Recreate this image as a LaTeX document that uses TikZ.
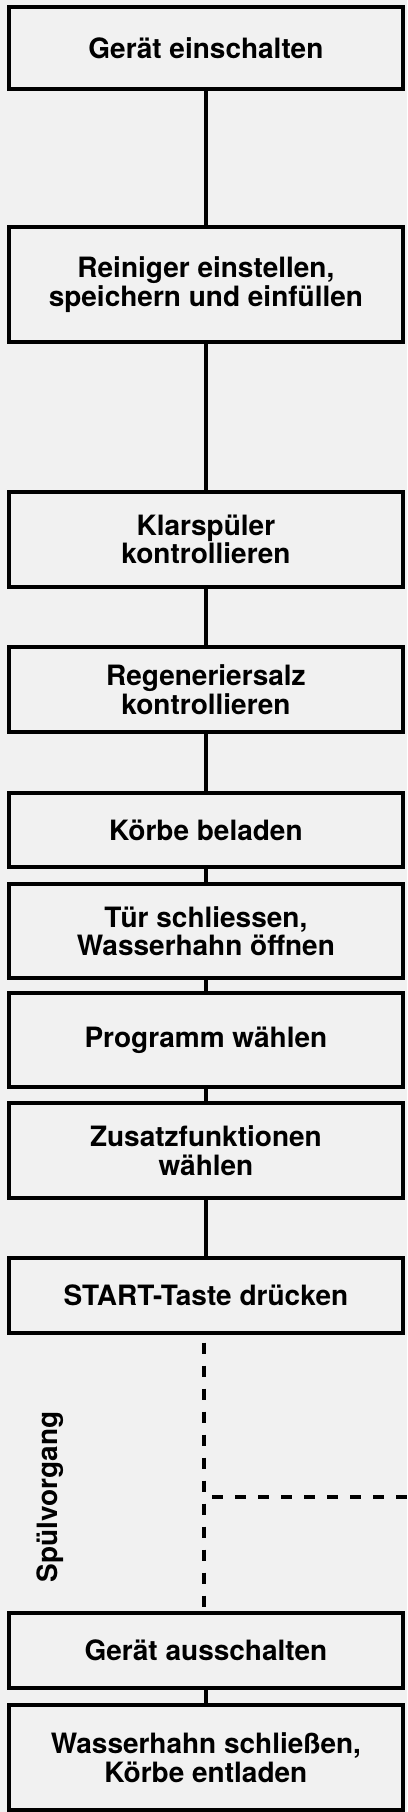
\documentclass[tikz,border=0pt]{standalone}
\usepackage{fontspec}
\setmainfont{TeX Gyre Heros}
\definecolor{bg}{RGB}{241,241,241}
\begin{document}
\begin{tikzpicture}[x=1pt,y=-1pt,
  stepbox/.style={draw=black, line width=3.3pt, fill=bg, minimum width=394pt,
    align=center, inner sep=0pt, font=\fontsize{28}{28.5}\selectfont\bfseries},
  link/.style={draw=black, line width=3.3pt},
  dlink/.style={draw=black, line width=3.6pt, dash pattern=on 11pt off 12pt, dash phase=-8pt}]
\fill[bg] (0,0) rectangle (407,1812);
\useasboundingbox (0,0) rectangle (407,1812);
\node[stepbox, minimum height=82pt]  (b1)  at (205.9,48)    {Gerät einschalten};
\node[stepbox, minimum height=115pt] (b2)  at (205.9,284.5) {Reiniger einstellen,\\speichern und einfüllen};
\node[stepbox, minimum height=95pt]  (b3)  at (205.9,539.5) {Klarspüler\\kontrollieren};
\node[stepbox, minimum height=85pt]  (b4)  at (205.9,689.5) {Regeneriersalz\\kontrollieren};
\node[stepbox, minimum height=74pt]  (b5)  at (205.9,830)   {Körbe beladen};
\node[stepbox, minimum height=94pt]  (b6)  at (205.9,931)   {Tür schliessen,\\Wasserhahn öffnen};
\node[stepbox, minimum height=94pt]  (b7)  at (205.9,1040)  {Programm wählen};
\node[stepbox, minimum height=95pt]  (b8)  at (205.9,1150.5) {Zusatzfunktionen\\wählen};
\node[stepbox, minimum height=75pt]  (b9)  at (205.9,1295.5) {START-Taste drücken};
\node[stepbox, minimum height=75pt]  (b10) at (205.9,1650.5) {Gerät ausschalten};
\node[stepbox, minimum height=105pt] (b11) at (205.9,1757.5) {Wasserhahn schließen,\\Körbe entladen};
\draw[link] (b1.south) -- (b2.north);
\draw[link] (b2.south) -- (b3.north);
\draw[link] (b3.south) -- (b4.north);
\draw[link] (b4.south) -- (b5.north);
\draw[link] (b5.south) -- (b6.north);
\draw[link] (b6.south) -- (b7.north);
\draw[link] (b7.south) -- (b8.north);
\draw[link] (b8.south) -- (b9.north);
\draw[link] (b10.south) -- (b11.north);
\draw[dlink] ([xshift=-2pt]b9.south) -- ([xshift=-2pt]b10.north);
\coordinate (j) at (204,1497);
\coordinate (e) at (407,1497);
\draw[dlink] (j) -- (e);
\node[rotate=90, font=\fontsize{28}{28}\selectfont\bfseries, inner sep=0pt] (lbl) at (50,1497) {Spülvorgang};
\end{tikzpicture}
\end{document}
